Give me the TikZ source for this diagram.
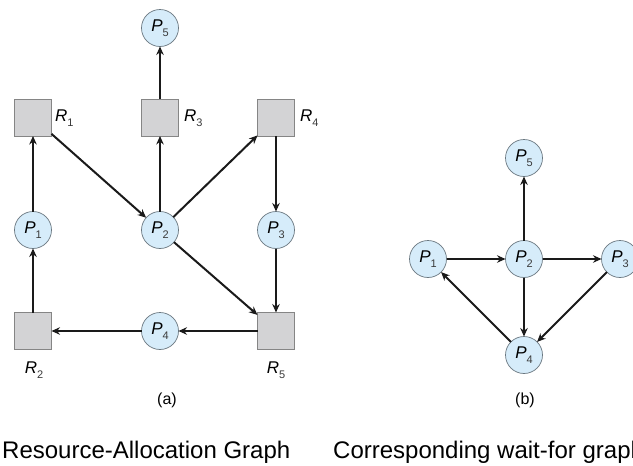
\documentclass[tikz,border=0pt]{standalone}
\usepackage{fontspec}
\setmainfont{Liberation Sans}
\usetikzlibrary{arrows.meta}

\definecolor{procfill}{HTML}{D6ECFA}
\definecolor{procline}{HTML}{6A7780}
\definecolor{resfill}{HTML}{D3D3D5}
\definecolor{resline}{HTML}{858585}
\definecolor{edgecol}{HTML}{1A1A1A}
\definecolor{subcol}{HTML}{3A3A3A}

% italic letter with a small, slightly lowered index
\newcommand\plabel[2]{\textit{#1}\raisebox{-0.55ex}{\fontsize{11}{11}\selectfont\color{subcol}#2}}

\tikzset{
  proc/.style={circle, draw=procline, line width=0.7pt, fill=procfill,
    minimum size=37pt, inner sep=0pt, outer sep=0pt,
    font=\fontsize{17}{17}\selectfont},
  res/.style={rectangle, draw=resline, line width=0.7pt, fill=resfill,
    minimum size=37pt, inner sep=0pt, outer sep=0pt},
  reslabel/.style={font=\fontsize{17}{17}\selectfont, inner sep=0pt},
  edge/.style={draw=edgecol, line width=2pt,
    -{Stealth[length=8.5pt, width=7.5pt]}},
  caption/.style={font=\fontsize{16}{16}\selectfont, inner sep=0pt},
  title/.style={font=\fontsize{24}{24}\selectfont, inner sep=0pt, anchor=base west}
}

\begin{document}
\begin{tikzpicture}[x=1pt, y=-1pt]
\path[use as bounding box] (0,0) rectangle (633,466);
\clip (0,0) rectangle (633,466);
\fill[white] (0,0) rectangle (633,466);

% (a) resource-allocation graph
\node[proc] (aP5) at (160,28) {\plabel{P}{5}};
\node[res]  (aR1) at (33,117.5) {};
\node[res]  (aR3) at (160,117.5) {};
\node[res]  (aR4) at (276,117.5) {};
\node[proc] (aP1) at (33,230) {\plabel{P}{1}};
\node[proc] (aP2) at (160,230) {\plabel{P}{2}};
\node[proc] (aP3) at (276,230) {\plabel{P}{3}};
\node[res]  (aR2) at (33,331) {};
\node[proc] (aP4) at (160,331) {\plabel{P}{4}};
\node[res]  (aR5) at (276,331) {};

\node[reslabel, anchor=west] (lR1) at (55,118) {\plabel{R}{1}};
\node[reslabel, anchor=west] (lR3) at (184,118) {\plabel{R}{3}};
\node[reslabel, anchor=west] (lR4) at (300,118) {\plabel{R}{4}};
\node[reslabel] (lR2) at (34,370) {\plabel{R}{2}};
\node[reslabel] (lR5) at (276,370) {\plabel{R}{5}};

\path[edge] (aR3) -- (aP5);
\path[edge] (aP1) -- (aR1);
\path[edge] (aR1) -- (aP2);
\path[edge] (aP2) -- (aR3);
\path[edge] (aP2) -- (aR4);
\path[edge] (aR4) -- (aP3);
\path[edge] (aP2) -- (aR5);
\path[edge] (aP3) -- (aR5);
\path[edge] (aR5) -- (aP4);
\path[edge] (aP4) -- (aR2);
\path[edge] (aR2) -- (aP1);

\node[caption] (capA) at (167,400) {(a)};

% (b) corresponding wait-for graph
\node[proc] (bP5) at (524,158) {\plabel{P}{5}};
\node[proc] (bP1) at (428,259) {\plabel{P}{1}};
\node[proc] (bP2) at (524,259) {\plabel{P}{2}};
\node[proc] (bP3) at (620,259) {\plabel{P}{3}};
\node[proc] (bP4) at (524,355) {\plabel{P}{4}};

\path[edge] (bP2) -- (bP5);
\path[edge] (bP1) -- (bP2);
\path[edge] (bP2) -- (bP3);
\path[edge] (bP2) -- (bP4);
\path[edge] (bP3) -- (bP4);
\path[edge] (bP4) -- (bP1);

\node[caption] (capB) at (525,400) {(b)};

% titles
\node[title] (tA) at (2,458) {Resource-Allocation Graph};
\node[title] (tB) at (333,458) {Corresponding wait-for graph};
\end{tikzpicture}
\end{document}
